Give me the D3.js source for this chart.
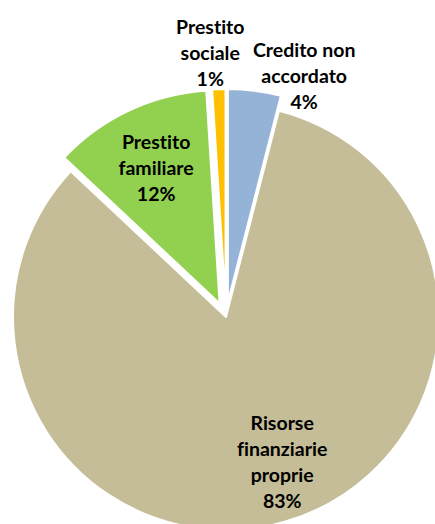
<!DOCTYPE html>
<html><head><meta charset="utf-8">
<script src="https://cdn.jsdelivr.net/npm/d3@7"></script>
<style>html,body{margin:0;padding:0;background:#fff;}svg{display:block;}text{font-variant-ligatures:none;font-feature-settings:"liga" 0;}</style>
</head><body>
<svg id="chart" width="435" height="524"></svg>
<script>
const categories = ["Credito non accordato", "Risorse finanziarie proprie", "Prestito familiare", "Prestito sociale"];
const labelLines = [["Credito non", "accordato"], ["Risorse", "finanziarie", "proprie"], ["Prestito", "familiare"], ["Prestito", "sociale"]];
const values = [4, 83, 12, 1];
const colors = ["#95B3D7", "#C4BD97", "#92D050", "#FFC000"];
const exploded = [true, false, true, true];

const W = 435, H = 524;
const cx = 226, cy = 317, R = 213, EXPLODE = 15;
const svg = d3.select("#chart");
const color = d3.scaleOrdinal().domain(categories).range(colors);

const pie = d3.pie().value(d => d.value).sort(null);
const data = categories.map((c, i) => ({cat: c, value: values[i], lines: labelLines[i], exploded: exploded[i]}));
const arcs = pie(data);
const arc = d3.arc().innerRadius(0).outerRadius(R);

function offset(a) {
  if (!a.data.exploded) return [0, 0];
  const m = (a.startAngle + a.endAngle) / 2;
  return [EXPLODE * Math.sin(m), -EXPLODE * Math.cos(m)];
}

const g = svg.append("g").attr("transform", `translate(${cx},${cy})`);
g.selectAll("path").data(arcs).enter().append("path")
  .attr("transform", d => { const o = offset(d); return `translate(${o[0]},${o[1]})`; })
  .attr("d", arc)
  .attr("fill", d => color(d.data.cat))
  .attr("stroke", "#fff").attr("stroke-width", 2).attr("stroke-linejoin", "round");

// label placement: radius factor and angle shift (radians) per slice (layout only)
const labelLayout = [
  {r: 1.12, da: 0.20},
  {r: 0.73, da: -0.087},
  {r: 0.70, da: 0.0},
  {r: 1.17, da: -0.03}
];
const LH = 26, FS = 19.5;
const lg = svg.append("g").attr("transform", `translate(${cx},${cy})`);
arcs.forEach((a, i) => {
  const o = offset(a);
  const m = (a.startAngle + a.endAngle) / 2 + labelLayout[i].da;
  const rr = R * labelLayout[i].r;
  const x = o[0] + rr * Math.sin(m), y = o[1] - rr * Math.cos(m);
  const lines = a.data.lines.concat([Math.round(a.data.value) + "%"]);
  const t = lg.append("text").attr("text-anchor", "middle")
    .attr("font-family", "Lato, 'Open Sans', sans-serif").attr("font-weight", "bold")
    .attr("font-size", FS).attr("fill", "#000");
  const y0 = y - (lines.length - 1) * LH / 2;
  lines.forEach((l, k) => {
    t.append("tspan").attr("x", x).attr("y", y0 + k * LH).attr("dy", "0.35em").text(l);
  });
});
</script>
</body></html>
